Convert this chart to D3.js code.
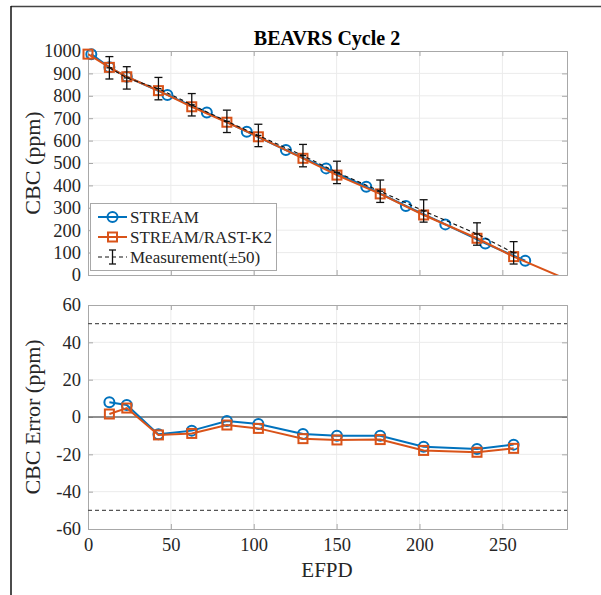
<!DOCTYPE html>
<html>
<head>
<meta charset="utf-8">
<script src="https://cdn.jsdelivr.net/npm/d3@7"></script>
<style>
  body { margin: 0; background: #fff; }
  svg { display: block; }
  svg text { font-family: 'Liberation Serif', 'Times New Roman', serif; }
</style>
</head>
<body>
<svg id="chart" width="601" height="595"></svg>
<script>
// STREAM depletion steps (top panel)
const streamDays = [2, 12.9, 23.4, 47.9, 71.7, 95.8, 119.4, 143.7, 167.9, 191.8, 215.6, 239.7, 263.8];
const streamCbc = [986, 927, 885, 804, 725, 640, 558, 476, 394, 308, 226, 141, 64];

// STREAM/RAST-K2 (top panel), last point runs off the axes
const rastDays = [0, 12.9, 23.4, 42.5, 62.6, 83.8, 102.8, 129.7, 150.2, 176.3, 202.5, 234.7, 256.8, 290];
const rastCbc = [986, 927, 885, 823, 751, 682, 617, 521, 446, 362, 268, 164, 82, -23];

// measurement, +-50 ppm
const measDays = [12.9, 23.4, 42.5, 62.6, 83.8, 102.8, 129.7, 150.2, 176.3, 202.5, 234.7, 256.8];
const measCbc = [925, 880, 832, 760, 686, 623, 533, 458, 374, 286, 183, 99];
const measErr = 50;

// errors at measurement points (bottom panel)
const streamErr = [7.9, 6.4, -9.3, -7.3, -2.1, -3.8, -9.1, -10.0, -10.0, -15.9, -17.1, -14.8];
const rastErr = [1.6, 4.8, -9.6, -8.8, -4.3, -6.1, -11.6, -12.3, -12.1, -17.9, -18.9, -16.8];

const xTicks = [0, 50, 100, 150, 200, 250];
const topTicks = [0, 100, 200, 300, 400, 500, 600, 700, 800, 900, 1000];
const botTicks = [-60, -40, -20, 0, 20, 40, 60];
const errLimits = [50, -50];

const blue = '#0072bd';
const orange = '#d95319';
const boxColor = '#a8a8a8';
const gridColor = '#ebebeb';
const textColor = '#262626';

const svg = d3.select('#chart');
const left = 88;
const right = 567;
const fmt = (d) => String(d); // plain hyphen minus, like the original

const x = d3.scaleLinear().domain([0, 289]).range([left, right]);
const yTop = d3.scaleLinear().domain([0, 1000]).range([275, 51]);
const yBot = d3.scaleLinear().domain([-60, 60]).range([529, 305]);

// figure frame
svg.append('line').attr('x1', 11).attr('x2', 601).attr('y1', 6.5).attr('y2', 6.5)
  .attr('stroke', '#444').attr('stroke-width', 1.5);
svg.append('line').attr('x1', 11).attr('x2', 11).attr('y1', 6).attr('y2', 595)
  .attr('stroke', '#111').attr('stroke-width', 1.5);

function drawAxes(y, ticks, id, showXLabels) {
  const g = svg.append('g');
  const [y0, y1] = y.range();

  g.append('clipPath').attr('id', id).append('rect')
    .attr('x', left).attr('y', y1).attr('width', right - left).attr('height', y0 - y1);

  g.append('rect').attr('x', left).attr('y', y1).attr('width', right - left).attr('height', y0 - y1)
    .attr('fill', '#fff');

  // grid
  g.selectAll('.vg').data(xTicks.slice(1)).join('line')
    .attr('x1', (d) => x(d)).attr('x2', (d) => x(d)).attr('y1', y1).attr('y2', y0)
    .attr('stroke', gridColor);
  g.selectAll('.hg').data(ticks.slice(1, -1)).join('line')
    .attr('x1', left).attr('x2', right).attr('y1', (d) => y(d)).attr('y2', (d) => y(d))
    .attr('stroke', gridColor);

  // box + ticks on all sides
  const axes = [
    d3.axisBottom(x).tickValues(xTicks).tickSize(-5).tickPadding(9).tickFormat(showXLabels ? fmt : ''),
    d3.axisTop(x).tickValues(xTicks).tickSize(-5).tickFormat(''),
    d3.axisLeft(y).tickValues(ticks).tickSize(-5).tickPadding(7).tickFormat(fmt),
    d3.axisRight(y).tickValues(ticks).tickSize(-5).tickFormat(''),
  ];
  const pos = [`translate(0,${y0})`, `translate(0,${y1})`, `translate(${left},0)`, `translate(${right},0)`];
  axes.forEach((a, i) => {
    const ax = g.append('g').attr('transform', pos[i]).call(a);
    ax.select('.domain').attr('stroke', boxColor);
    ax.selectAll('.tick line').attr('stroke', boxColor);
    ax.selectAll('.tick text').attr('fill', textColor).style('font-size', '18.5px');
  });
  return g;
}

function drawSeries(g, xs, ys, y, color, shape, clipId) {
  const pts = xs.map((d, i) => [d, ys[i]]);
  g.append('path').datum(pts)
    .attr('clip-path', `url(#${clipId})`)
    .attr('fill', 'none').attr('stroke', color).attr('stroke-width', 2)
    .attr('d', d3.line().x((d) => x(d[0])).y((d) => y(d[1])));

  const inside = pts.filter((d) => d[0] <= x.domain()[1] && d[1] >= y.domain()[0]);
  if (shape === 'circle') {
    g.selectAll(null).data(inside).join('circle')
      .attr('cx', (d) => x(d[0])).attr('cy', (d) => y(d[1])).attr('r', 5)
      .attr('fill', 'none').attr('stroke', color).attr('stroke-width', 2);
  } else {
    g.selectAll(null).data(inside).join('rect')
      .attr('x', (d) => x(d[0]) - 4.5).attr('y', (d) => y(d[1]) - 4.5)
      .attr('width', 9).attr('height', 9)
      .attr('fill', 'none').attr('stroke', color).attr('stroke-width', 2);
  }
}

// ---- top panel
const topPanel = drawAxes(yTop, topTicks, 'clipTop', false);
drawSeries(topPanel, streamDays, streamCbc, yTop, blue, 'circle', 'clipTop');
drawSeries(topPanel, rastDays, rastCbc, yTop, orange, 'square', 'clipTop');

const meas = measDays.map((d, i) => [d, measCbc[i]]);
topPanel.append('path').datum(meas)
  .attr('fill', 'none').attr('stroke', '#111').attr('stroke-width', 1.1).attr('stroke-dasharray', '4,3')
  .attr('d', d3.line().x((d) => x(d[0])).y((d) => yTop(d[1])));
const bars = topPanel.append('g').selectAll('g').data(meas).join('g')
  .attr('stroke', '#111').attr('stroke-width', 1.3);
bars.append('line')
  .attr('x1', (d) => x(d[0])).attr('x2', (d) => x(d[0]))
  .attr('y1', (d) => yTop(d[1] - measErr)).attr('y2', (d) => yTop(d[1] + measErr));
[-1, 1].forEach((s) => {
  bars.append('line')
    .attr('x1', (d) => x(d[0]) - 4).attr('x2', (d) => x(d[0]) + 4)
    .attr('y1', (d) => yTop(d[1] + s * measErr)).attr('y2', (d) => yTop(d[1] + s * measErr));
});
bars.append('line')
  .attr('x1', (d) => x(d[0]) - 3).attr('x2', (d) => x(d[0]) + 3)
  .attr('y1', (d) => yTop(d[1])).attr('y2', (d) => yTop(d[1]));

svg.append('text').attr('x', 327).attr('y', 45).attr('text-anchor', 'middle')
  .attr('font-size', 20).attr('font-weight', 'bold').attr('fill', '#000')
  .text('BEAVRS Cycle 2');

svg.append('text').attr('transform', 'translate(40,163) rotate(-90)').attr('text-anchor', 'middle')
  .attr('font-size', 22).attr('fill', textColor).text('CBC (ppm)');

// legend
const legend = svg.append('g');
legend.append('rect').attr('x', 90.5).attr('y', 203.5).attr('width', 186).attr('height', 67)
  .attr('fill', '#fff').attr('stroke', boxColor);
const legendItems = [
  { label: 'STREAM', color: blue, shape: 'circle' },
  { label: 'STREAM/RAST-K2', color: orange, shape: 'square' },
  { label: 'Measurement(\u00b150)', color: '#111', shape: 'bar' },
];
legendItems.forEach((item, i) => {
  const cy = 217 + i * 20;
  const row = legend.append('g');
  if (item.shape === 'bar') {
    row.append('line').attr('x1', 98).attr('x2', 127).attr('y1', cy).attr('y2', cy)
      .attr('stroke', item.color).attr('stroke-width', 1.1).attr('stroke-dasharray', '4,3');
    row.append('line').attr('x1', 112.5).attr('x2', 112.5).attr('y1', cy - 7).attr('y2', cy + 7)
      .attr('stroke', item.color).attr('stroke-width', 1.3);
    [-7, 7].forEach((o) => row.append('line').attr('x1', 109).attr('x2', 116)
      .attr('y1', cy + o).attr('y2', cy + o).attr('stroke', item.color).attr('stroke-width', 1.3));
  } else {
    row.append('line').attr('x1', 98).attr('x2', 127).attr('y1', cy).attr('y2', cy)
      .attr('stroke', item.color).attr('stroke-width', 2);
    if (item.shape === 'circle') {
      row.append('circle').attr('cx', 112.5).attr('cy', cy).attr('r', 5)
        .attr('fill', 'none').attr('stroke', item.color).attr('stroke-width', 2);
    } else {
      row.append('rect').attr('x', 108).attr('y', cy - 4.5).attr('width', 9).attr('height', 9)
        .attr('fill', 'none').attr('stroke', item.color).attr('stroke-width', 2);
    }
  }
  row.append('text').attr('x', 130).attr('y', cy + 6).attr('font-size', 17).attr('fill', textColor)
    .text(item.label);
});

// ---- bottom panel
const bot = drawAxes(yBot, botTicks, 'clipBot', true);
bot.append('line').attr('x1', left).attr('x2', right).attr('y1', yBot(0)).attr('y2', yBot(0))
  .attr('stroke', '#6e6e6e').attr('stroke-width', 1.5);
bot.selectAll(null).data(errLimits).join('line')
  .attr('x1', left).attr('x2', right).attr('y1', (d) => yBot(d)).attr('y2', (d) => yBot(d))
  .attr('stroke', '#555').attr('stroke-width', 1.1).attr('stroke-dasharray', '4,3');
drawSeries(bot, measDays, streamErr, yBot, blue, 'circle', 'clipBot');
drawSeries(bot, measDays, rastErr, yBot, orange, 'square', 'clipBot');

svg.append('text').attr('transform', 'translate(40,417) rotate(-90)').attr('text-anchor', 'middle')
  .attr('font-size', 22).attr('fill', textColor).text('CBC Error (ppm)');
svg.append('text').attr('x', 327).attr('y', 577).attr('text-anchor', 'middle')
  .attr('font-size', 21).attr('fill', textColor).text('EFPD');
</script>
</body>
</html>
